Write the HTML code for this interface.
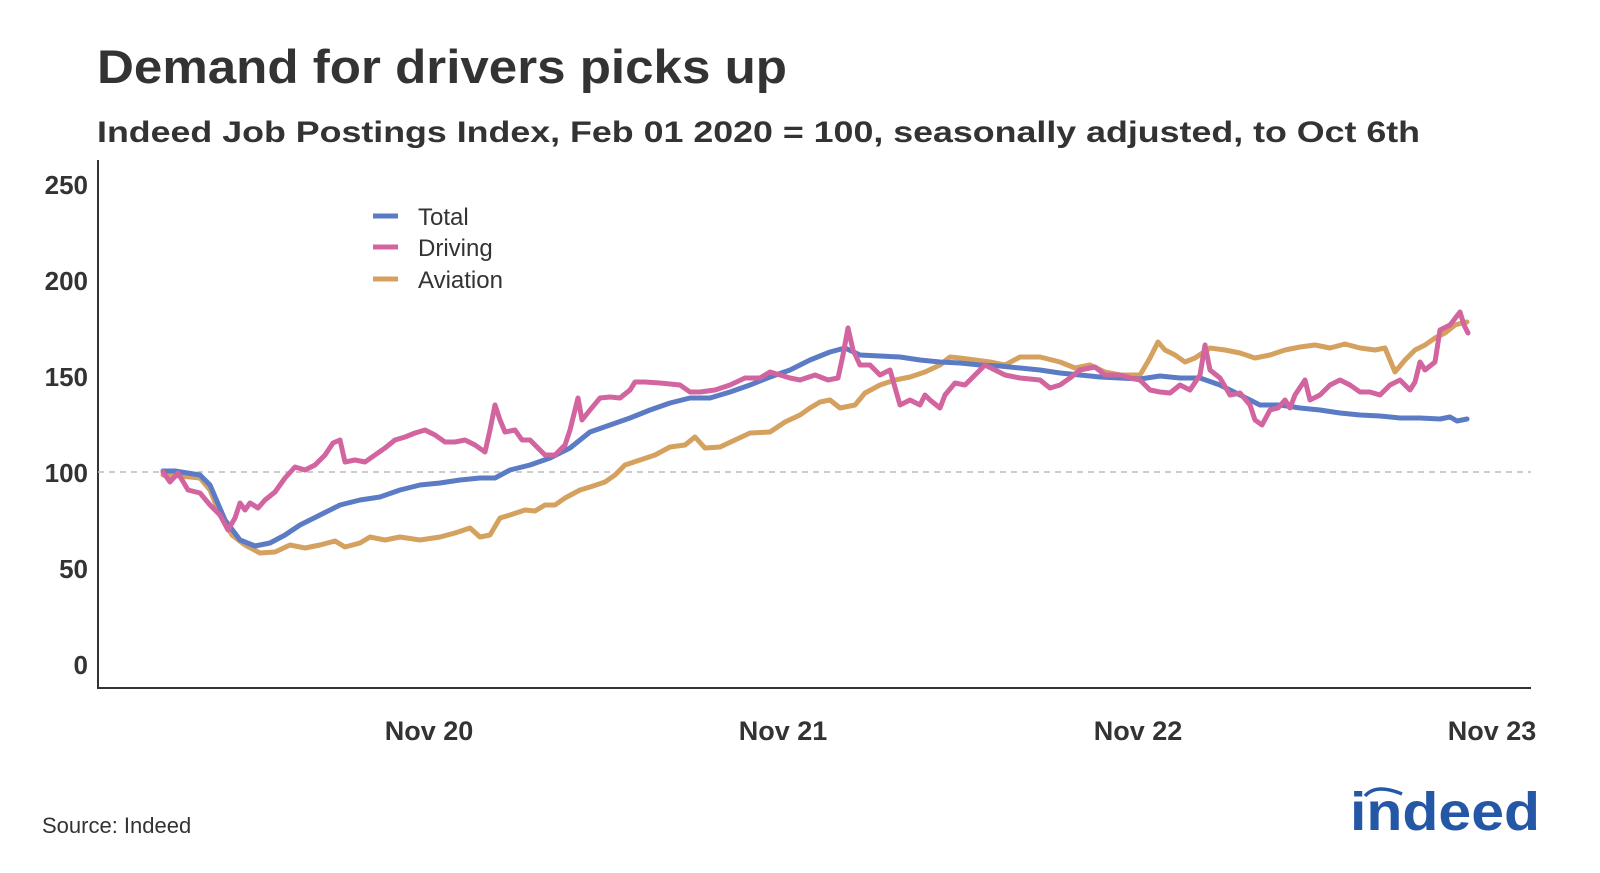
<!DOCTYPE html>
<html><head><meta charset="utf-8"><style>
html,body{margin:0;padding:0;background:#fff;}
svg{display:block;}
text{font-family:"Liberation Sans","DejaVu Sans",sans-serif;}
</style></head><body>
<svg width="1600" height="873" viewBox="0 0 1600 873" xmlns="http://www.w3.org/2000/svg">
<text x="97" y="83" font-size="47" font-weight="bold" fill="#333" textLength="690" lengthAdjust="spacingAndGlyphs">Demand for drivers picks up</text>
<text x="97" y="142" font-size="30" font-weight="bold" fill="#333" textLength="1323" lengthAdjust="spacingAndGlyphs">Indeed Job Postings Index, Feb 01 2020 = 100, seasonally adjusted, to Oct 6th</text>
<line x1="98" y1="160" x2="98" y2="689" stroke="#333" stroke-width="2"/>
<line x1="97" y1="688" x2="1531" y2="688" stroke="#333" stroke-width="2"/>
<line x1="98" y1="472" x2="1531" y2="472" stroke="#bbb" stroke-width="1.5" stroke-dasharray="6,5"/>
<g font-size="26" font-weight="bold" fill="#333" text-anchor="end">
<text x="88" y="194">250</text><text x="88" y="290">200</text><text x="88" y="386">150</text>
<text x="88" y="482">100</text><text x="88" y="578">50</text><text x="88" y="674">0</text>
</g>
<g font-size="27" font-weight="bold" fill="#333" text-anchor="middle">
<text x="429" y="740">Nov 20</text><text x="783" y="740">Nov 21</text><text x="1138" y="740">Nov 22</text><text x="1492" y="740">Nov 23</text>
</g>
<g stroke-width="5" fill="none" stroke-linejoin="round" stroke-linecap="round">
<polyline stroke="#d4a15f" points="163,475 180,476 200,478 210,490 220,515 232,535 245,545 260,553 275,552 290,545 305,548 320,545 335,541 345,547 360,543 370,537 385,540 400,537 420,540 440,537 455,533 470,528 480,537 490,535 500,518 510,515 525,510 535,511 545,505 555,505 565,498 580,490 590,487 605,482 615,475 625,465 640,460 655,455 670,447 685,445 695,437 705,448 720,447 735,440 750,433 770,432 785,422 800,415 810,408 820,402 830,400 840,408 855,405 865,393 880,385 895,380 910,377 925,372 940,365 950,357 960,358 975,360 990,362 1005,365 1020,357 1040,357 1060,362 1075,368 1090,365 1105,372 1120,375 1140,375 1150,358 1158,342 1165,350 1175,355 1185,362 1195,358 1210,348 1225,350 1240,353 1255,358 1270,355 1285,350 1300,347 1315,345 1330,348 1345,344 1360,348 1375,350 1385,348 1395,372 1405,360 1415,350 1425,345 1435,338 1445,333 1455,325 1462,323 1467,322"/>
<polyline stroke="#5b7bc4" points="163,471 175,471 200,475 210,485 225,520 240,540 255,546 270,543 285,535 300,525 320,515 340,505 360,500 380,497 400,490 420,485 440,483 460,480 480,478 495,478 510,470 530,465 550,458 570,448 590,432 610,425 630,418 650,410 670,403 690,398 710,398 730,392 750,385 770,377 790,370 810,360 830,352 845,348 860,355 880,356 900,357 920,360 940,362 960,363 980,365 1000,366 1020,368 1040,370 1060,373 1080,375 1100,377 1120,378 1140,379 1160,376 1180,378 1200,378 1220,385 1240,395 1260,405 1280,405 1300,408 1320,410 1340,413 1360,415 1380,416 1400,418 1420,418 1440,419 1450,417 1457,421 1467,419"/>
<polyline stroke="#d264a0" points="163,472 170,482 178,473 188,490 200,493 210,505 220,515 228,530 235,518 240,503 245,510 250,503 258,508 265,500 275,492 285,478 295,467 305,470 315,465 325,455 333,443 340,440 345,462 355,460 365,462 375,455 385,448 395,440 405,437 415,433 425,430 435,435 445,442 455,442 465,440 475,445 485,452 490,430 495,405 500,420 505,432 515,430 522,440 530,440 540,450 545,455 555,455 565,445 570,430 578,398 582,420 590,410 600,398 610,397 620,398 630,390 635,382 645,382 660,383 680,385 690,392 700,392 715,390 730,385 745,378 760,378 770,372 780,375 790,378 800,380 815,375 828,380 838,378 843,355 848,328 853,350 860,365 870,365 880,375 890,370 900,405 910,400 920,405 925,395 930,400 940,408 945,395 955,383 965,385 975,375 985,365 995,370 1005,375 1020,378 1040,380 1050,388 1060,385 1070,378 1080,370 1095,367 1105,375 1120,375 1130,378 1140,380 1150,390 1160,392 1170,393 1180,385 1190,390 1200,375 1205,345 1210,370 1220,378 1230,395 1240,393 1250,405 1255,420 1262,425 1270,410 1278,408 1285,400 1290,408 1295,395 1305,380 1310,400 1320,395 1330,385 1340,380 1350,385 1360,392 1370,392 1380,395 1390,385 1400,380 1410,390 1415,382 1420,362 1425,370 1435,362 1440,330 1450,325 1460,312 1464,325 1468,333"/>
</g>
<g stroke-width="5">
<line x1="373" y1="216" x2="398" y2="216" stroke="#5b7bc4"/>
<line x1="373" y1="247" x2="398" y2="247" stroke="#d264a0"/>
<line x1="373" y1="279" x2="398" y2="279" stroke="#d4a15f"/>
</g>
<g font-size="24" fill="#333">
<text x="418" y="225">Total</text><text x="418" y="256">Driving</text><text x="418" y="288">Aviation</text>
</g>
<text x="42" y="833" font-size="22" fill="#333">Source: Indeed</text>
<path d="M1365,796 Q1376,783 1402,794" stroke="#2557a7" stroke-width="3.5" fill="none"/>
<text x="1350" y="830" font-size="54" font-weight="bold" fill="#2557a7" textLength="190" lengthAdjust="spacingAndGlyphs">indeed</text>
</svg>
</body></html>
